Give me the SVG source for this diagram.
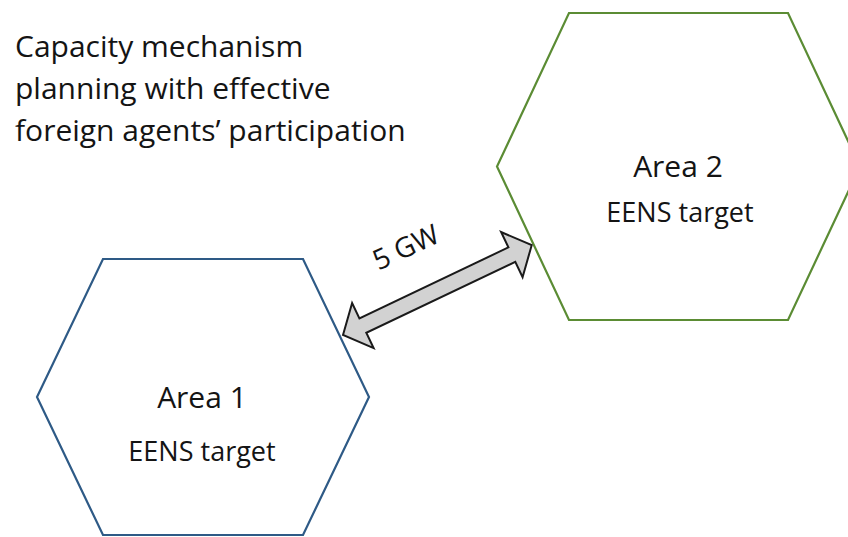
<svg xmlns="http://www.w3.org/2000/svg" width="848" height="537" viewBox="0 0 848 537">
<style>
.t{font-family:"Open Sans","Liberation Sans",sans-serif;fill:#141414}
.title{font-size:30px}
.area{font-size:30px;text-anchor:middle}
.sub{font-size:27px;text-anchor:middle}
.hex{fill:#ffffff;stroke-width:2.2;stroke-linejoin:miter}
.arrow{fill:#d2d2d2;stroke:#1a1a1a;stroke-width:2;stroke-linejoin:miter}
</style>
<rect width="848" height="537" fill="#ffffff"/>
<g id="title">
<text class="t title" x="15" y="57">Capacity mechanism</text>
<text class="t title" x="15" y="99">planning with effective</text>
<text class="t title" x="15" y="141">foreign agents’ participation</text>
</g>
<g id="area1">
<polygon class="hex" stroke="#2e5a86" points="103,259 303,259 369,397 303,535 103,535 37,397"/>
<text class="t area" x="202" y="408">Area 1</text>
<text class="t sub" x="202" y="461">EENS target</text>
</g>
<g id="area2">
<polygon class="hex" stroke="#5b8c34" points="569,13 788,13 860,166.5 788,320 569,320 497,166.5"/>
<text class="t area" x="678" y="177">Area 2</text>
<text class="t sub" x="680" y="222">EENS target</text>
</g>
<g id="connectors">
<polygon class="arrow" transform="translate(343,335) rotate(-25.46)" points="0,0 22,-25 22,-8 187,-8 187,-25 209,0 187,25 187,8 22,8 22,25"/>
<text class="t" font-size="28" text-anchor="middle" transform="translate(410,256) rotate(-25)">5 GW</text>
</g>
</svg>
